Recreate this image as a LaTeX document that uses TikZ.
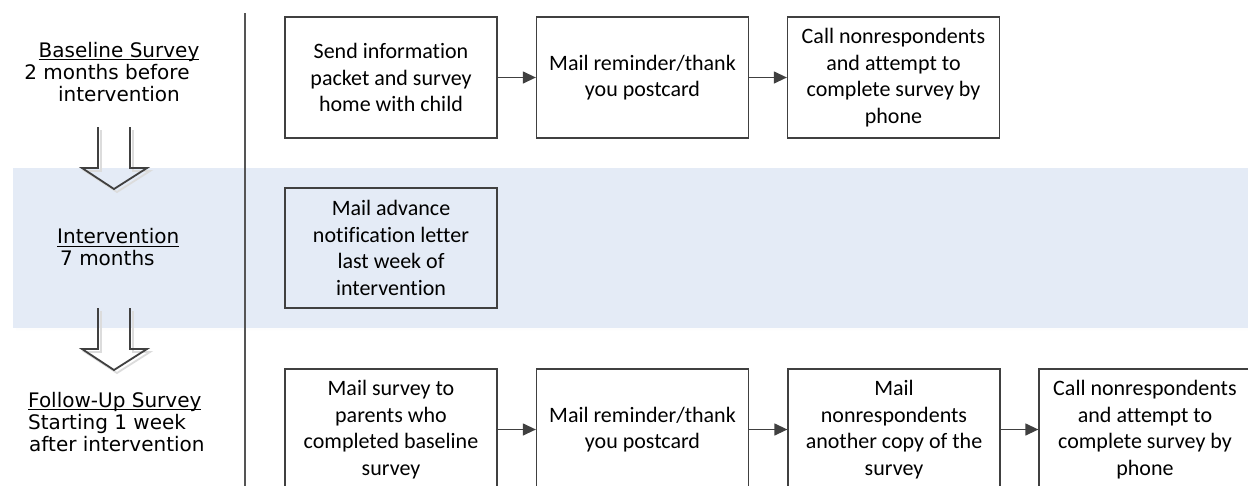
\documentclass[tikz,border=0pt]{standalone}
\usepackage{fontspec}
\setmainfont{Carlito}[Ligatures=NoCommon]
\newfontfamily\vfont{DejaVu Sans}
\usetikzlibrary{arrows.meta}
\definecolor{band}{HTML}{E4EBF6}
\definecolor{edge}{HTML}{404040}
\definecolor{sep}{HTML}{555555}
\definecolor{shade}{HTML}{DCDCDC}
\newcommand{\myul}[1]{\setbox0\hbox{#1}\rlap{\rule[-2.6pt]{\wd0}{0.9pt}}\box0}
\tikzset{
  stepbox/.style={draw=edge, line width=1.3pt, fill=white, minimum width=212pt, minimum height=121pt,
    inner sep=0pt, align=center, font=\fontsize{22}{26.7}\selectfont},
  phase/.style={inner sep=0pt, font=\vfont\fontsize{20}{22}\selectfont},
  link/.style={draw=edge, line width=1.3pt, -{Triangle[length=13pt,width=12pt]}},
  blockarrow/.style={draw=edge, line width=1.8pt, line join=miter},
  blockshadow/.style={draw=shade, line width=1.8pt, line join=miter}
}
\begin{document}
\begin{tikzpicture}[x=1pt,y=-1pt]
\clip (0,0) rectangle (1248,485);
\fill[white] (0,0) rectangle (1248,485);
% band
\fill[shade] (16,171) rectangle (1260,331);
\fill[band] (13,168) rectangle (1260,328);
% separator
\draw[sep, line width=1.6pt] (245,13) -- (245,490);
% phase labels
\node[phase, align=center, anchor=north] (lb) at (119,42)
  {\myul{Baseline Survey}\\2 months before\hbox to 24pt{}\\intervention};
\node[phase, align=left, anchor=north west] (li) at (57,228.5)
  {\myul{Intervention}\\\hbox to 3pt{}7 months};
\node[phase, align=left, anchor=north west] (lf) at (28,392)
  {\myul{Follow-Up Survey}\\Starting 1 week\\\hbox to 1pt{}after intervention};
% block arrows
\draw[blockshadow] (101,130) -- (101,171) -- (85,171) -- (117,192) -- (150,171) -- (133,171) -- (133,130);
\draw[blockarrow] (98,127) -- (98,168) -- (82,168) -- (114,189) -- (147,168) -- (130,168) -- (130,127);
\draw[blockshadow] (101,311) -- (101,352) -- (85,352) -- (117,373) -- (150,352) -- (133,352) -- (133,311);
\draw[blockarrow] (98,308) -- (98,349) -- (82,349) -- (114,370) -- (147,349) -- (130,349) -- (130,308);
% top row
\node[stepbox] (t1) at (391,77.5) {Send information\\packet and survey\\home with child};
\node[stepbox] (t2) at (642.5,77.5) {Mail reminder/thank\\you postcard};
\node[stepbox] (t3) at (893.5,77.5) {Call nonrespondents\\and attempt to\\complete survey by\\phone};
\draw[link] (t1) -- (t2);
\draw[link] (t2) -- (t3);
% middle
\node[stepbox, fill=none, minimum height=120pt] (m1) at (391,248) {Mail advance\\notification letter\\last week of\\intervention};
% bottom row
\node[stepbox] (b1) at (391,429.5) {Mail survey to\\parents who\\completed baseline\\survey};
\node[stepbox] (b2) at (642.5,429.5) {Mail reminder/thank\\you postcard};
\node[stepbox] (b3) at (894,429.5) {Mail\\nonrespondents\\another copy of the\\survey};
\node[stepbox] (b4) at (1145,429.5) {Call nonrespondents\\and attempt to\\complete survey by\\phone};
\draw[link] (b1) -- (b2);
\draw[link] (b2) -- (b3);
\draw[link] (b3) -- (b4);
\end{tikzpicture}
\end{document}
